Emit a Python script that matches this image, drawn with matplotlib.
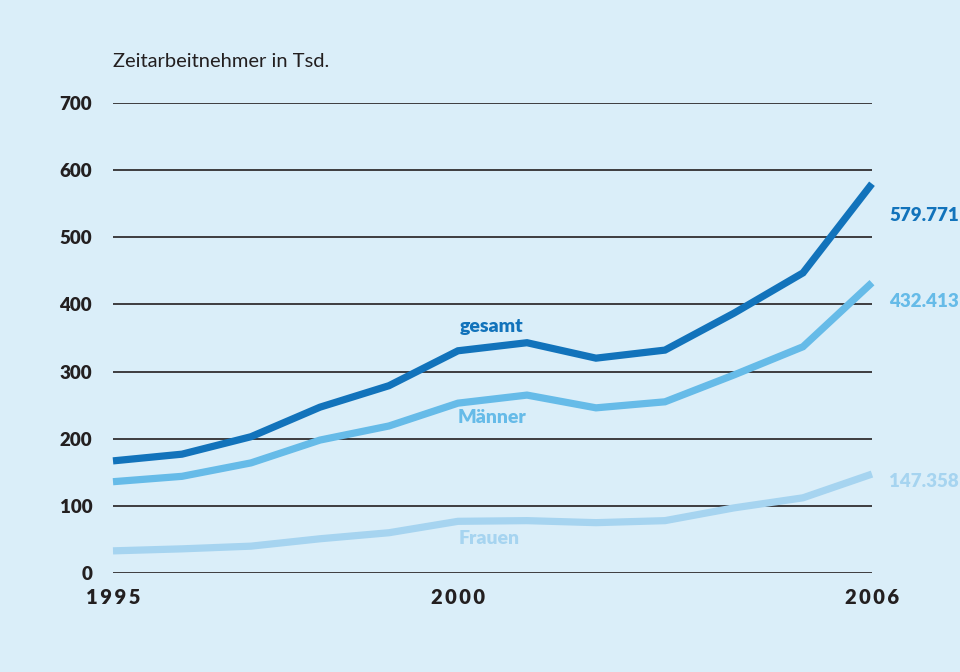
import matplotlib.pyplot as plt

years = list(range(1995, 2007))
gesamt = [167, 177, 203, 247, 279, 331, 343, 320, 332, 387, 447, 579.771]
maenner = [136, 144, 164, 198, 219, 253, 265, 246, 255, 295, 337, 432.413]
frauen = [33, 36, 40, 51, 60, 77, 78, 75, 78, 97, 112, 147.358]

end_labels = ["579.771", "432.413", "147.358"]
y_ticks = [0, 100, 200, 300, 400, 500, 600, 700]
x_ticks = [1995, 2000, 2006]

bg = "#daeef9"
c_gesamt = "#1273bb"
c_maenner = "#66bbe8"
c_frauen = "#a6d4f0"
ink = "#231f20"

plt.rcParams["font.family"] = ["Lato", "DejaVu Sans"]

fig = plt.figure(figsize=(9.6, 6.72), dpi=100, facecolor=bg)
ax = fig.add_axes([0.1177, 0.1473, 0.7906, 0.6994], facecolor=bg)

for y in y_ticks:
    ax.axhline(y, color=ink, lw=1.2, zorder=1)

series = [(frauen, c_frauen), (maenner, c_maenner), (gesamt, c_gesamt)]
for vals, col in series:
    ax.plot(years, vals, color=col, lw=5.2, solid_capstyle="butt",
            solid_joinstyle="miter", zorder=3, clip_on=False)

ax.set_xlim(1995, 2006)
ax.set_ylim(0, 700)
for s in ax.spines.values():
    s.set_visible(False)
ax.tick_params(length=0)
ax.set_yticks(y_ticks)
ax.set_yticklabels([str(v) for v in y_ticks], fontsize=13.5,
                   fontweight="heavy", color=ink)
ax.tick_params(axis="y", pad=15)
ax.set_xticks(x_ticks)
ax.set_xticklabels(["\u2009".join(str(v)) for v in x_ticks], fontsize=14.5,
                   fontweight="heavy", color=ink)
ax.tick_params(axis="x", pad=11)

# line names placed inside the plot
ax.text(2000.48, 367, "gesamt", color=c_gesamt, fontsize=14,
        fontweight="heavy", ha="center", va="center")
ax.text(2000.5, 232, "Männer", color=c_maenner, fontsize=14,
        fontweight="heavy", ha="center", va="center")
ax.text(2000.45, 52, "Frauen", color=c_frauen, fontsize=14,
        fontweight="heavy", ha="center", va="center")

# end values at the right edge
for txt, y, col in zip(end_labels, [533, 405, 137],
                       [c_gesamt, c_maenner, c_frauen]):
    ax.text(2006.25, y, txt, color=col, fontsize=13.5, fontweight="heavy",
            ha="left", va="center")

fig.text(0.1177, 0.908, "Zeitarbeitnehmer in Tsd.", fontsize=14.5,
         color=ink, ha="left", va="center")

fig.savefig("out.png", dpi=100, facecolor=bg)
